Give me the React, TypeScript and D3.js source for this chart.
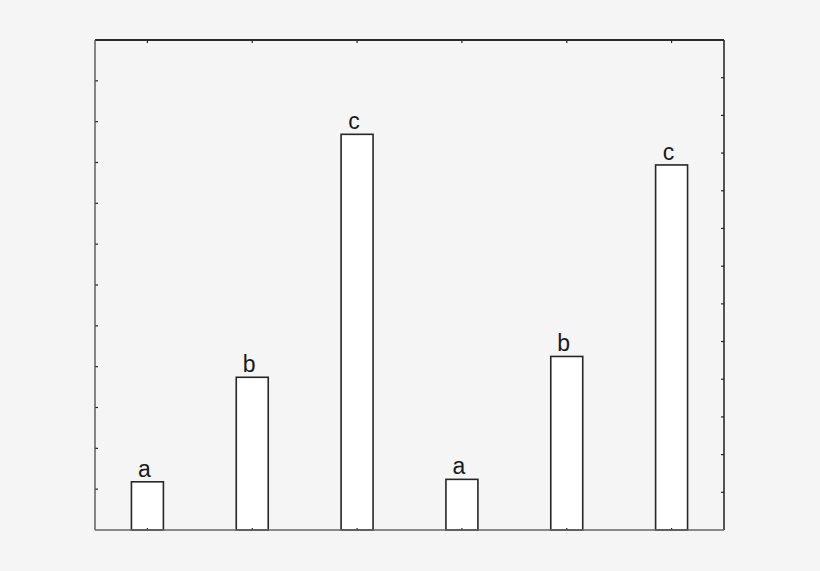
import React, { useRef, useEffect } from 'react';
import * as d3 from 'd3';

// six groups, no axis labels in the picture
const categories = ['g1', 'g2', 'g3', 'g4', 'g5', 'g6'];
const values = [1.18, 3.74, 9.69, 1.24, 4.25, 8.94];
const letters = ['a', 'b', 'c', 'a', 'b', 'c'];
const leftTicks = d3.range(0, 13);
const rightTicks = d3.range(0, 14);

const App: React.FC = () => {
    const svgRef = useRef<SVGSVGElement>(null);
    const width = 820;
    const height = 571;

    useEffect(() => {
        if (!svgRef.current) return;
        const svg = d3.select(svgRef.current);
        svg.selectAll("*").remove();

        const margin = { top: 40, right: 96, bottom: 41, left: 95 };
        const x0 = margin.left, x1 = width - margin.right;
        const y0 = height - margin.bottom, y1 = margin.top;

        svg.append("rect")
            .attr("width", width).attr("height", height)
            .attr("fill", "#f5f5f5");

        const xScale = d3.scaleBand<string>()
            .domain(categories)
            .range([x0, x1])
            .padding(0);

        const yScale = d3.scaleLinear().domain([0, 12]).range([y0, y1]);
        const yRight = d3.scaleLinear().domain([0, 13]).range([y0, y1]);

        const barW = xScale.bandwidth() * 0.305;

        const g = svg.append("g");

        g.selectAll("rect.bar")
            .data(values)
            .join("rect")
            .attr("class", "bar")
            .attr("x", (d, i) => xScale(categories[i])! + xScale.bandwidth() / 2 - barW / 2)
            .attr("y", d => yScale(d))
            .attr("width", barW)
            .attr("height", d => y0 - yScale(d))
            .attr("fill", "#ffffff")
            .attr("stroke", "#262626")
            .attr("stroke-width", 1.6);

        // letters sit a little left of the bar centre in the original
        g.selectAll("text.lbl")
            .data(values)
            .join("text")
            .attr("class", "lbl")
            .attr("x", (d, i) => xScale(categories[i])! + xScale.bandwidth() / 2 - 3)
            .attr("y", d => yScale(d) - 5)
            .attr("text-anchor", "middle")
            .attr("font-family", "'Liberation Sans', Arial, sans-serif")
            .attr("font-size", 23)
            .attr("fill", "#1a1a1a")
            .text((d, i) => letters[i]);

        // inward ticks
        const tickLen = 3;
        g.selectAll("line.lt")
            .data(leftTicks.slice(1, -1))
            .join("line")
            .attr("x1", x0).attr("x2", x0 + tickLen)
            .attr("y1", d => yScale(d)).attr("y2", d => yScale(d))
            .attr("stroke", "#222").attr("stroke-width", 1.2);

        g.selectAll("line.rt")
            .data(rightTicks.slice(1, -1))
            .join("line")
            .attr("x1", x1).attr("x2", x1 - tickLen)
            .attr("y1", d => yRight(d)).attr("y2", d => yRight(d))
            .attr("stroke", "#222").attr("stroke-width", 1.2);

        g.selectAll("line.tt")
            .data(categories)
            .join("line")
            .attr("x1", d => xScale(d)! + xScale.bandwidth() / 2)
            .attr("x2", d => xScale(d)! + xScale.bandwidth() / 2)
            .attr("y1", y1).attr("y2", y1 + tickLen)
            .attr("stroke", "#222").attr("stroke-width", 1.2);

        g.selectAll("line.bt")
            .data(categories)
            .join("line")
            .attr("x1", d => xScale(d)! + xScale.bandwidth() / 2)
            .attr("x2", d => xScale(d)! + xScale.bandwidth() / 2)
            .attr("y1", y0).attr("y2", y0 - 2)
            .attr("stroke", "#222").attr("stroke-width", 1.2);

        // frame
        g.append("line").attr("x1", x0).attr("x2", x1).attr("y1", y1).attr("y2", y1)
            .attr("stroke", "#2a2a2a").attr("stroke-width", 2);
        g.append("line").attr("x1", x1).attr("x2", x1).attr("y1", y1).attr("y2", y0)
            .attr("stroke", "#2a2a2a").attr("stroke-width", 1.6);
        g.append("line").attr("x1", x0).attr("x2", x0).attr("y1", y1).attr("y2", y0)
            .attr("stroke", "#555").attr("stroke-width", 1.4);
        g.append("line").attr("x1", x0).attr("x2", x1).attr("y1", y0).attr("y2", y0)
            .attr("stroke", "#666").attr("stroke-width", 1.4);
    }, []);

    return (
        <svg
            ref={svgRef}
            width={width}
            height={height}
            style={{ position: 'absolute', left: 0, top: 0, display: 'block' }}
        />
    );
};

export default App;
